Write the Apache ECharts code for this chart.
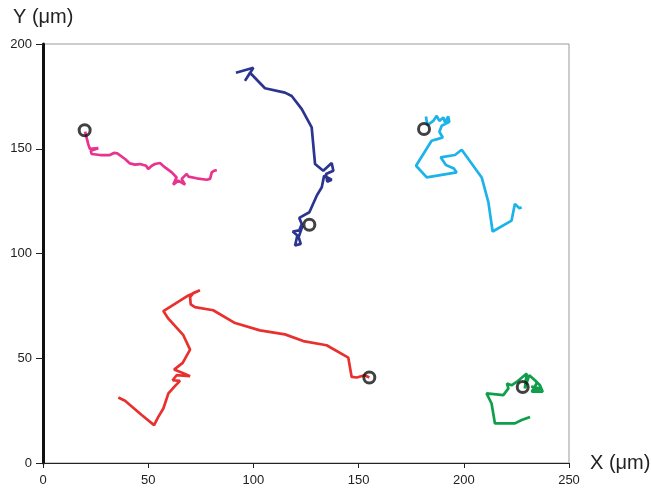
<!doctype html>
<html lang="en">
<head>
    <meta charset="UTF-8">
    <title>Cell tracks</title>
</head>
<body style="margin:0">
    <script src="https://cdn.jsdelivr.net/npm/echarts@6/dist/echarts.min.js"></script>
    <div id="tracks" style="width: 651px; height: 490px"></div>

    <script>
        // axis ticks
        var xTicks = [0, 50, 100, 150, 200, 250];
        var yTicks = [0, 50, 100, 150, 200];

        // tracks, [x, y] in µm
        var pinkTrack = [[20.0,158.2],[21.5,152.2],[22.3,149.9],[26.3,150.3],[22.7,149],[23.1,147.5],[27.1,147],[31.8,147],[33.7,148],[35.3,147.8],[39,145.1],[41.3,143],[43.7,142.4],[46.1,142.7],[49,141.9],[50,140.3],[51.7,141.9],[53.2,142.7],[55.6,143.2],[58,141.1],[61.2,138.7],[63.5,136.3],[61.9,132.9],[64.3,134.8],[67.5,132.9],[65.9,135.6],[68.3,138],[69.1,136.7],[73,135.9],[77.8,135.2],[79.4,135.6],[80.2,138.7],[81.3,139.5],[82.6,139.8]];
        var navyTrack = [[91.7,186.3],[100,188.7],[96,182.4],[98.4,186.3],[105.5,178.9],[115,176.8],[118.2,175.2],[123,168.9],[127.7,160.2],[129.3,142.7],[133.2,139.5],[137.2,143.2],[138,139.5],[134.5,137.9],[135.1,134.3],[137.2,135.2],[133.6,137.1],[132.5,131.6],[130.1,127.6],[126.6,119.7],[121.8,117],[123,114.1],[121.8,111],[118.7,110.5],[120.9,108.6],[119.8,103.8],[122.5,104.6],[121.5,107.8],[123.4,113.3]];
        var cyanTrack = [[182,165.4],[182.7,161.3],[185.5,163.3],[187.1,165.7],[188.4,163.3],[190.3,164.9],[191.1,162.5],[192.6,165.4],[193.1,162.9],[189.5,161],[188.4,158.1],[190,155.4],[187.4,154.6],[184.7,153.8],[177.3,141.9],[182.4,136.3],[196.6,138.7],[195.3,140.6],[191.5,142.2],[189,145.9],[195.8,147],[199,149.5],[208.5,136.3],[211.7,124.4],[213.7,110.5],[222.7,115.7],[224.3,123.7],[226.4,121.6],[227.5,122.1]];
        var redTrack = [[35.8,31.3],[39,29.7],[46.9,22.9],[52.8,18.1],[54.8,22],[57.2,26],[59.6,33.2],[62.7,36.7],[65.1,39.2],[61.6,39.5],[63.5,41.9],[69.9,41.4],[66.4,43],[62.3,44.6],[66.4,47.8],[69.9,54.1],[66.7,61],[59.6,68.9],[57.2,72.5],[62.7,76],[69.1,80],[74.6,82.4],[71.4,81.1],[69.9,79.2],[70.2,75.7],[72.2,74.4],[80.9,72.9],[91.3,66.8],[103.1,63.3],[115,61.4],[123.7,58.2],[134.8,56.2],[145.1,50.3],[146.7,41.1],[149.1,40.8],[153,41.9],[155.1,40.8]];
        var greenTrack = [[231.5,22],[227.5,20.5],[224.3,18.9],[214.8,18.9],[213.2,28.4],[210.8,33.2],[218.8,32.4],[221.2,35.6],[220.5,38],[222.7,37.1],[225.1,38.7],[229.9,42.7],[229,35.6],[231.1,41.9],[233.8,39.5],[236.2,37.1],[237.5,34],[232.3,34],[234.6,38],[233,34.8],[237,35.5],[232,36.5]];

        // starting points
        var startPoints = [[19.8,158.8],[126.6,113.7],[181.1,159.4],[155.1,40.8],[228,36.3]];

        var tracks = [
            {data: pinkTrack, color: '#e8338f'},
            {data: navyTrack, color: '#2b3590'},
            {data: cyanTrack, color: '#1cb3ea'},
            {data: redTrack, color: '#e8312f'},
            {data: greenTrack, color: '#0f9f4a'}
        ];

        var series = tracks.map(function (t) {
            return {
                type: 'line',
                data: t.data,
                symbol: 'none',
                lineStyle: {color: t.color, width: 2.7},
                z: 2
            };
        });
        series.push({
            type: 'scatter',
            data: startPoints,
            symbol: 'circle',
            symbolSize: 11,
            itemStyle: {color: 'rgba(0,0,0,0)', borderColor: '#111', borderWidth: 3},
            z: 3
        });

        var font = 'Liberation Sans, Arial, sans-serif';

        var option = {
            animation: false,
            backgroundColor: '#fff',
            grid: {
                left: 43, right: 82, top: 44, bottom: 27,
                show: true, borderColor: '#999', borderWidth: 1
            },
            xAxis: {
                type: 'value',
                min: xTicks[0], max: xTicks[xTicks.length - 1], interval: 50,
                axisLine: {lineStyle: {color: '#222', width: 1}},
                axisTick: {show: true, length: 5, lineStyle: {color: '#222'}},
                axisLabel: {color: '#222', fontSize: 13, fontFamily: font, margin: 11},
                splitLine: {show: false}
            },
            yAxis: {
                type: 'value',
                min: yTicks[0], max: yTicks[yTicks.length - 1], interval: 50,
                axisLine: {show: true, lineStyle: {color: '#111', width: 3}},
                axisTick: {show: true, length: 7, lineStyle: {color: '#222'}},
                axisLabel: {color: '#222', fontSize: 13, fontFamily: font, margin: 11},
                splitLine: {show: false}
            },
            graphic: [
                {type: 'text', left: 13, top: 7,
                 style: {text: 'Y (μm)', fontSize: 20, fontFamily: font, fill: '#222'}},
                {type: 'text', left: 590, top: 453,
                 style: {text: 'X (μm)', fontSize: 20, fontFamily: font, fill: '#222'}}
            ],
            series: series
        };

        var chart = echarts.init(document.getElementById('tracks'));
        chart.setOption(option);
    </script>
</body>
</html>
